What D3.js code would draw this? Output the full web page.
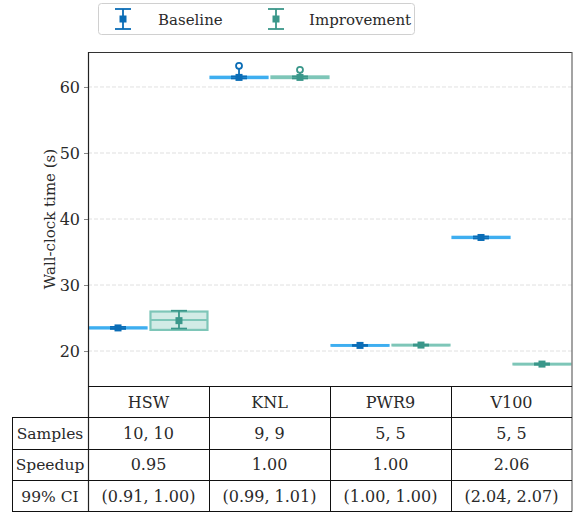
<!DOCTYPE html>
<html>
<head>
<meta charset="utf-8">
<script src="https://cdn.jsdelivr.net/npm/d3@7"></script>
<style>
body { margin: 0; background: #fff; }
text { font-family: "DejaVu Serif", serif; fill: #2a2a2a; }
</style>
</head>
<body>
<script>
// data
var categories = ["HSW", "KNL", "PWR9", "V100"];
var seriesNames = ["Baseline", "Improvement"];
var yTicks = [20, 30, 40, 50, 60];

// baseline boxes (q1, median, q3), mean + 99% CI, outliers
var baseQ1 = [23.42, 61.35, 20.8, 37.12];
var baseMed = [23.5, 61.45, 20.85, 37.2];
var baseQ3 = [23.58, 61.55, 20.9, 37.3];
var baseWhiskHi = [23.58, 62.8, 20.9, 37.3];
var baseMean = [23.5, 61.45, 20.85, 37.2];
var baseCiLo = [23.35, 61.3, 20.78, 37.05];
var baseCiHi = [23.65, 61.6, 20.92, 37.35];
var baseOut = [[], [63.2], [], []];

// improvement boxes
var impQ1 = [23.2, 61.35, 20.85, 17.97];
var impMed = [24.7, 61.45, 20.9, 18.02];
var impQ3 = [25.98, 61.6, 20.95, 18.07];
var impWhiskHi = [25.98, 62.25, 20.95, 18.07];
var impMean = [24.6, 61.45, 20.9, 18.02];
var impCiLo = [23.4, 61.3, 20.82, 17.92];
var impCiHi = [26.1, 61.6, 20.98, 18.12];
var impOut = [[], [62.6], [], []];

// table rows
var rowLabels = ["Samples", "Speedup", "99% CI"];
var samples = ["10, 10", "9, 9", "5, 5", "5, 5"];
var speedup = ["0.95", "1.00", "1.00", "2.06"];
var ciText = ["(0.91, 1.00)", "(0.99, 1.01)", "(1.00, 1.00)", "(2.04, 2.07)"];

var width = 581, height = 512;
var plot = {left: 88, right: 572, top: 52, bottom: 386};
var tableBottom = 511.5, labelLeft = 12;
var fontSize = "15px";

var boxColor = ["#3eaef0", "#7ec6b8"];
var darkColor = ["#0b6db6", "#3a978a"];

var svg = d3.select("body").append("svg")
    .attr("width", width)
    .attr("height", height);

var y = d3.scaleLinear().domain([14.7, 65.3]).range([plot.bottom, plot.top]);
var x = d3.scaleBand().domain(categories).range([plot.left, plot.right]);
var xSub = d3.scaleBand().domain(seriesNames).range([0, x.bandwidth()])
    .paddingInner(0.065).paddingOuter(0.025);

// grid lines
svg.append("g").selectAll("line")
    .data(yTicks).enter().append("line")
    .attr("x1", plot.left).attr("x2", plot.right)
    .attr("y1", function (d) { return y(d); })
    .attr("y2", function (d) { return y(d); })
    .attr("stroke", "#d8d8d8")
    .attr("stroke-width", 0.8)
    .attr("stroke-dasharray", "4,2");

// y axis
var yAxis = d3.axisLeft(y).tickValues(yTicks).tickSize(4).tickPadding(4);
var gy = svg.append("g")
    .attr("transform", "translate(" + plot.left + ",0)")
    .call(yAxis);
gy.select(".domain").remove();
gy.attr("font-family", null).attr("font-size", null);
gy.selectAll(".tick line").attr("stroke", "#888");
gy.selectAll(".tick text")
    .style("font-size", "16px")
    .attr("fill", "#2a2a2a");

svg.append("text")
    .attr("transform", "translate(55," + ((plot.top + plot.bottom) / 2) + ") rotate(-90)")
    .attr("text-anchor", "middle")
    .style("font-size", fontSize)
    .text("Wall-clock time (s)");

// build records for drawing
var records = [];
categories.forEach(function (c, i) {
    records.push({cat: c, s: 0, q1: baseQ1[i], med: baseMed[i], q3: baseQ3[i], wh: baseWhiskHi[i],
        mean: baseMean[i], lo: baseCiLo[i], hi: baseCiHi[i], out: baseOut[i]});
    records.push({cat: c, s: 1, q1: impQ1[i], med: impMed[i], q3: impQ3[i], wh: impWhiskHi[i],
        mean: impMean[i], lo: impCiLo[i], hi: impCiHi[i], out: impOut[i]});
});

var groups = svg.append("g").selectAll("g")
    .data(records).enter().append("g")
    .attr("transform", function (d) {
        return "translate(" + (x(d.cat) + xSub(seriesNames[d.s])) + ",0)";
    });

var bw = xSub.bandwidth();

groups.append("rect")//box
    .attr("x", 0)
    .attr("width", bw)
    .attr("y", function (d) { return y(d.q3); })
    .attr("height", function (d) { return Math.max(0.5, y(d.q1) - y(d.q3)); })
    .attr("fill", function (d) { return boxColor[d.s]; })
    .attr("fill-opacity", 0.35)
    .attr("stroke", function (d) { return boxColor[d.s]; })
    .attr("stroke-width", 2.2);

groups.append("line")//median
    .attr("x1", 0).attr("x2", bw)
    .attr("y1", function (d) { return y(d.med); })
    .attr("y2", function (d) { return y(d.med); })
    .attr("stroke", function (d) { return boxColor[d.s]; })
    .attr("stroke-width", 2.2);

groups.append("line")//upper whisker
    .attr("x1", bw / 2).attr("x2", bw / 2)
    .attr("y1", function (d) { return y(d.q3); })
    .attr("y2", function (d) { return y(d.wh); })
    .attr("stroke", function (d) { return darkColor[d.s]; })
    .attr("stroke-width", 1.8);

groups.each(function (d) {//outliers
    d3.select(this).selectAll("circle")
        .data(d.out).enter().append("circle")
        .attr("cx", bw / 2)
        .attr("cy", function (v) { return y(v); })
        .attr("r", 3)
        .attr("fill", "none")
        .attr("stroke", darkColor[d.s])
        .attr("stroke-width", 1.8);
});

// error bars of mean
groups.append("line")
    .attr("x1", bw / 2).attr("x2", bw / 2)
    .attr("y1", function (d) { return y(d.lo); })
    .attr("y2", function (d) { return y(d.hi); })
    .attr("stroke", function (d) { return darkColor[d.s]; })
    .attr("stroke-width", 1.8);
groups.selectAll(".cap")
    .data(function (d) { return [{v: d.lo, s: d.s}, {v: d.hi, s: d.s}]; })
    .enter().append("line")
    .attr("class", "cap")
    .attr("x1", bw / 2 - 8).attr("x2", bw / 2 + 8)
    .attr("y1", function (c) { return y(c.v); })
    .attr("y2", function (c) { return y(c.v); })
    .attr("stroke", function (c) { return darkColor[c.s]; })
    .attr("stroke-width", 1.8);
groups.append("rect")
    .attr("x", bw / 2 - 3.5)
    .attr("width", 7)
    .attr("y", function (d) { return y(d.mean) - 3.5; })
    .attr("height", 7)
    .attr("fill", function (d) { return darkColor[d.s]; });

// spines
svg.append("line").attr("x1", plot.left).attr("x2", plot.right)
    .attr("y1", plot.top + 0.5).attr("y2", plot.top + 0.5)
    .attr("stroke", "#333").attr("stroke-width", 1.2);
svg.append("line").attr("x1", plot.left + 0.5).attr("x2", plot.left + 0.5)
    .attr("y1", plot.top).attr("y2", tableBottom)
    .attr("stroke", "#222").attr("stroke-width", 1.2);
svg.append("line").attr("x1", plot.right).attr("x2", plot.right)
    .attr("y1", plot.top).attr("y2", tableBottom)
    .attr("stroke", "#666").attr("stroke-width", 1.2);

// table
var rows = d3.scaleBand().domain(["head"].concat(rowLabels))
    .range([plot.bottom, tableBottom]);
var tbl = svg.append("g");
tbl.append("line").attr("x1", plot.left).attr("x2", plot.right)
    .attr("y1", plot.bottom + 0.5).attr("y2", plot.bottom + 0.5)
    .attr("stroke", "#111");
tbl.selectAll(".hline")
    .data(rowLabels).enter().append("line")
    .attr("x1", labelLeft).attr("x2", plot.right)
    .attr("y1", function (r) { return Math.round(rows(r)) + 0.5; })
    .attr("y2", function (r) { return Math.round(rows(r)) + 0.5; })
    .attr("stroke", "#111");
tbl.append("line").attr("x1", labelLeft).attr("x2", plot.right)
    .attr("y1", tableBottom).attr("y2", tableBottom)
    .attr("stroke", "#111");
tbl.append("line").attr("x1", labelLeft + 0.5).attr("x2", labelLeft + 0.5)
    .attr("y1", rows("Samples")).attr("y2", tableBottom)
    .attr("stroke", "#111");
tbl.selectAll(".vline")
    .data(categories.slice(1)).enter().append("line")
    .attr("x1", function (c) { return Math.round(x(c)) + 0.5; })
    .attr("x2", function (c) { return Math.round(x(c)) + 0.5; })
    .attr("y1", plot.bottom).attr("y2", tableBottom)
    .attr("stroke", "#111");

var rowH = rows.bandwidth();
var cellFont = "16px";
tbl.selectAll(".head")
    .data(categories).enter().append("text")
    .attr("x", function (c) { return x(c) + x.bandwidth() / 2; })
    .attr("y", rows("head") + rowH / 2 + 6)
    .attr("text-anchor", "middle")
    .style("font-size", cellFont)
    .text(function (c) { return c; });
tbl.selectAll(".rlab")
    .data(rowLabels).enter().append("text")
    .attr("x", (labelLeft + plot.left) / 2)
    .attr("y", function (r) { return rows(r) + rowH / 2 + 6; })
    .attr("text-anchor", "middle")
    .style("font-size", "15.5px")
    .text(function (r) { return r; });
var cells = [samples, speedup, ciText];
cells.forEach(function (vals, ri) {
    tbl.selectAll(".cell" + ri)
        .data(vals).enter().append("text")
        .attr("x", function (v, i) { return x(categories[i]) + x.bandwidth() / 2; })
        .attr("y", rows(rowLabels[ri]) + rowH / 2 + 6)
        .attr("text-anchor", "middle")
        .style("font-size", cellFont)
        .text(function (v) { return v; });
});

// legend
var leg = svg.append("g");
leg.append("rect")
    .attr("x", 98.5).attr("y", 3.5)
    .attr("width", 316).attr("height", 31)
    .attr("rx", 3)
    .attr("fill", "#fff")
    .attr("stroke", "#d0d0d0");
var legX = [123, 276];
var textX = [158, 309];
seriesNames.forEach(function (name, i) {
    var g = leg.append("g").attr("transform", "translate(" + legX[i] + ",19)");
    g.append("line").attr("x1", 0).attr("x2", 0).attr("y1", -10).attr("y2", 10)
        .attr("stroke", darkColor[i]).attr("stroke-width", 1.8);
    g.append("line").attr("x1", -8).attr("x2", 8).attr("y1", -10).attr("y2", -10)
        .attr("stroke", darkColor[i]).attr("stroke-width", 1.8);
    g.append("line").attr("x1", -8).attr("x2", 8).attr("y1", 10).attr("y2", 10)
        .attr("stroke", darkColor[i]).attr("stroke-width", 1.8);
    g.append("rect").attr("x", -3.5).attr("y", -3.5).attr("width", 7).attr("height", 7)
        .attr("fill", darkColor[i]);
    leg.append("text")
        .attr("x", textX[i]).attr("y", 24.5)
        .style("font-size", fontSize)
        .text(name);
});
</script>
</body>
</html>
